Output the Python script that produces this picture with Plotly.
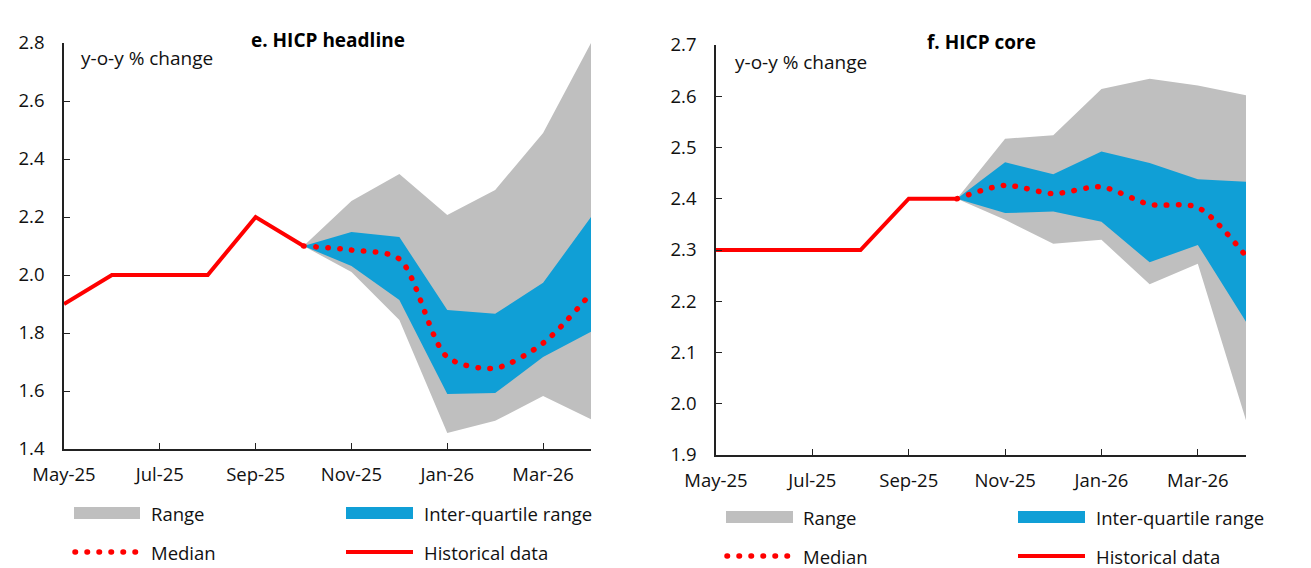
import plotly.graph_objects as go

# ---------------- data ----------------
months = ["May-25", "Jun-25", "Jul-25", "Aug-25", "Sep-25", "Oct-25",
          "Nov-25", "Dec-25", "Jan-26", "Feb-26", "Mar-26", "Apr-26"]
hist_months = months[:6]
fc_months = months[5:]
tick_labels = ["May-25", "Jul-25", "Sep-25", "Nov-25", "Jan-26", "Mar-26"]

# e. HICP headline
head_hist = [1.9, 2.0, 2.0, 2.0, 2.2, 2.1]
head_range_hi = [2.1, 2.255, 2.348, 2.207, 2.293, 2.49, 2.80]
head_range_lo = [2.1, 2.01, 1.845, 1.455, 1.497, 1.583, 1.503]
head_iqr_hi = [2.1, 2.148, 2.131, 1.879, 1.866, 1.973, 2.20]
head_iqr_lo = [2.1, 2.031, 1.914, 1.59, 1.593, 1.717, 1.804]
head_median = [2.1, 2.086, 2.055, 1.717, 1.679, 1.765, 1.937]

# f. HICP core
core_hist = [2.3, 2.3, 2.3, 2.3, 2.4, 2.4]
core_range_hi = [2.4, 2.517, 2.524, 2.614, 2.634, 2.621, 2.602]
core_range_lo = [2.4, 2.359, 2.312, 2.32, 2.233, 2.273, 1.968]
core_iqr_hi = [2.4, 2.471, 2.448, 2.492, 2.47, 2.438, 2.433]
core_iqr_lo = [2.4, 2.372, 2.375, 2.355, 2.276, 2.31, 2.16]
core_median = [2.4, 2.426, 2.41, 2.423, 2.389, 2.383, 2.288]

titles = ["e. HICP headline", "f. HICP core"]
unit_label = "y-o-y % change"
legend_labels = ["Range", "Inter-quartile range", "Median", "Historical data"]

# ---------------- style ----------------
GREY = "#BFBFBF"
BLUE = "#109FD6"
RED = "#FF0000"
FONT = "Open Sans"
W, H = 1311, 568
DOTS = "0.5px,11.5px"

fig = go.Figure()

panels = [
    dict(hist=head_hist, rhi=head_range_hi, rlo=head_range_lo, ihi=head_iqr_hi,
         ilo=head_iqr_lo, med=head_median, xa="x", ya="y"),
    dict(hist=core_hist, rhi=core_range_hi, rlo=core_range_lo, ihi=core_iqr_hi,
         ilo=core_iqr_lo, med=core_median, xa="x2", ya="y2"),
]

for p in panels:
    fig.add_trace(go.Scatter(
        x=fc_months + fc_months[::-1], y=p["rhi"] + p["rlo"][::-1],
        fill="toself", fillcolor=GREY, line=dict(width=0), mode="lines",
        xaxis=p["xa"], yaxis=p["ya"], showlegend=False, hoverinfo="skip"))
    fig.add_trace(go.Scatter(
        x=fc_months + fc_months[::-1], y=p["ihi"] + p["ilo"][::-1],
        fill="toself", fillcolor=BLUE, line=dict(width=0), mode="lines",
        xaxis=p["xa"], yaxis=p["ya"], showlegend=False, hoverinfo="skip"))
    fig.add_trace(go.Scatter(
        x=hist_months, y=p["hist"], mode="lines",
        line=dict(color=RED, width=4), xaxis=p["xa"], yaxis=p["ya"],
        showlegend=False, cliponaxis=False))
    fig.add_trace(go.Scatter(
        x=fc_months, y=p["med"], mode="lines",
        line=dict(color=RED, width=5.5, dash=DOTS, shape="spline", smoothing=0.8),
        xaxis=p["xa"], yaxis=p["ya"], showlegend=False, cliponaxis=False))

xdomains = [[64 / W, 591 / W], [716 / W, 1246 / W]]
ydomains = [[(H - 449) / H, (H - 43) / H], [(H - 455) / H, (H - 45) / H]]
yranges = [[1.4, 2.8], [1.9, 2.7]]
ydticks = [0.2, 0.1]

common_x = dict(
    type="category", categoryorder="array", categoryarray=months,
    range=[0, len(months) - 1], tickmode="array", tickvals=tick_labels,
    ticktext=tick_labels, showline=True, linecolor="#222", linewidth=1.5,
    ticks="inside", ticklen=6, tickcolor="#222", tickwidth=1.2,
    showgrid=False, zeroline=False, automargin=False,
    tickfont=dict(family=FONT, size=18.5, color="#111"), ticklabelstandoff=8)

fig.update_layout(
    template="none",
    width=W, height=H, margin=dict(l=0, r=0, t=0, b=0, pad=0, autoexpand=False),
    paper_bgcolor="white", plot_bgcolor="white",
    font=dict(family=FONT, color="#111"),
    xaxis=dict(common_x, domain=xdomains[0], anchor="y"),
    xaxis2=dict(common_x, domain=xdomains[1], anchor="y2"),
)
for i, ax in enumerate(["yaxis", "yaxis2"]):
    fig.layout[ax] = dict(
        domain=ydomains[i], range=yranges[i], dtick=ydticks[i], tick0=yranges[i][0],
        tickformat=".1f", showline=True, linecolor="#222", linewidth=1.5,
        ticks="inside", ticklen=6, tickcolor="#222", tickwidth=1.2,
        showgrid=False, zeroline=False, anchor="x" if i == 0 else "x2",
        automargin=False,
        tickfont=dict(family=FONT, size=18.5, color="#111"), ticklabelstandoff=14)

annotations = []
shapes = []
title_pos = [(328, 40), (981, 42)]
unit_pos = [(79, 58), (733, 62)]
for i in range(2):
    annotations.append(dict(
        text="<b>" + titles[i] + "</b>", x=title_pos[i][0] / W, y=1 - title_pos[i][1] / H,
        xref="paper", yref="paper", xanchor="center", yanchor="middle",
        showarrow=False, font=dict(family=FONT, size=19, color="#000")))
    annotations.append(dict(
        text=unit_label, x=unit_pos[i][0] / W, y=1 - unit_pos[i][1] / H,
        xref="paper", yref="paper", xanchor="left", yanchor="middle",
        showarrow=False, font=dict(family=FONT, size=19, color="#111")))

# manual legends (two per panel, 2x2 grid)
leg = [
    dict(c1=(74, 140), c2=(346, 413), t1=149, t2=422, r1=513, r2=552),
    dict(c1=(726, 793), c2=(1018, 1085), t1=801, t2=1094, r1=517, r2=556),
]
for L in leg:
    shapes.append(dict(type="rect", xref="paper", yref="paper",
                       x0=L["c1"][0] / W, x1=L["c1"][1] / W,
                       y0=1 - (L["r1"] + 6) / H, y1=1 - (L["r1"] - 6) / H,
                       fillcolor=GREY, line=dict(width=0)))
    shapes.append(dict(type="rect", xref="paper", yref="paper",
                       x0=L["c2"][0] / W, x1=L["c2"][1] / W,
                       y0=1 - (L["r1"] + 6) / H, y1=1 - (L["r1"] - 6) / H,
                       fillcolor=BLUE, line=dict(width=0)))
    shapes.append(dict(type="line", xref="paper", yref="paper",
                       x0=(L["c1"][0] + 1) / W, x1=(L["c1"][1] - 2) / W,
                       y0=1 - L["r2"] / H, y1=1 - L["r2"] / H,
                       line=dict(color=RED, width=5.5, dash=DOTS)))
    shapes.append(dict(type="line", xref="paper", yref="paper",
                       x0=L["c2"][0] / W, x1=L["c2"][1] / W,
                       y0=1 - L["r2"] / H, y1=1 - L["r2"] / H,
                       line=dict(color=RED, width=4)))
    for txt, tx, ty in [(legend_labels[0], L["t1"], L["r1"]),
                        (legend_labels[1], L["t2"], L["r1"]),
                        (legend_labels[2], L["t1"], L["r2"]),
                        (legend_labels[3], L["t2"], L["r2"])]:
        annotations.append(dict(
            text=txt, x=tx / W, y=1 - ty / H, xref="paper", yref="paper",
            xanchor="left", yanchor="middle", showarrow=False,
            font=dict(family=FONT, size=18.5, color="#111")))

fig.update_layout(annotations=annotations, shapes=shapes)

post = """
document.body.style.margin='0';
document.querySelectorAll('path').forEach(function(el){
  var d = el.style.strokeDasharray || el.getAttribute('stroke-dasharray');
  if (d && d.indexOf('11.5') >= 0) { el.style.strokeLinecap = 'round'; }
});
"""
fig.write_html("out.html", config={"displayModeBar": False}, post_script=post)
